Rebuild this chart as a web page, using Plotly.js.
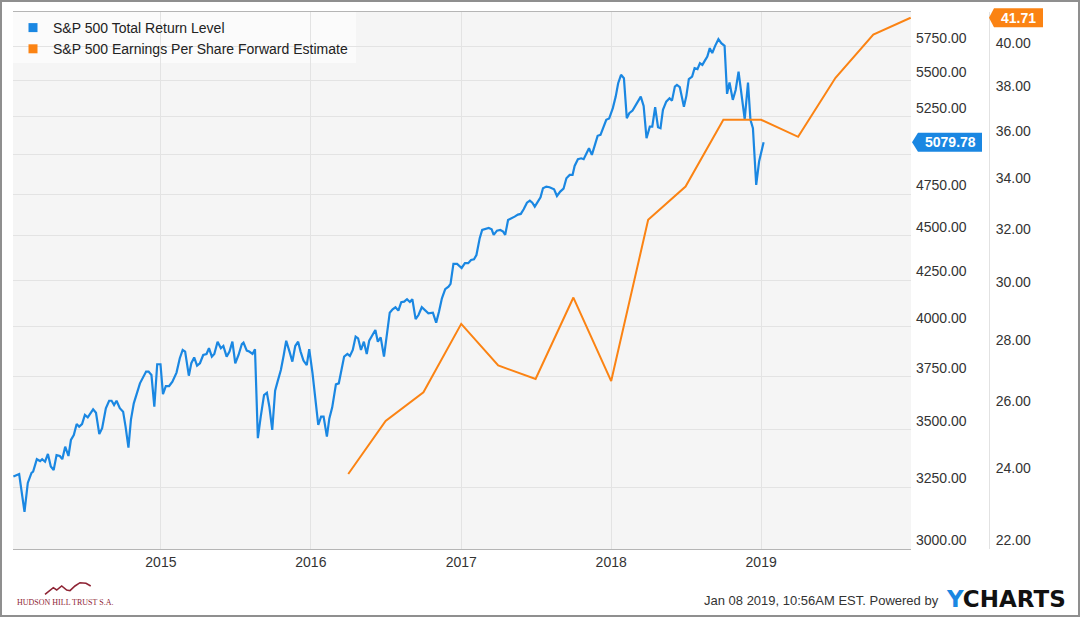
<!DOCTYPE html>
<html>
<head>
<meta charset="utf-8">
<script src="https://cdn.plot.ly/plotly-3.0.1.min.js"></script>
<style>
  html, body { margin: 0; padding: 0; background: #ffffff; }
  #chart { width: 1080px; height: 617px; }
</style>
</head>
<body>
<div id="chart"></div>
<script>
// ---------------- DATA ----------------
const seriesNames = ["S&P 500 Total Return Level", "S&P 500 Earnings Per Share Forward Estimate"];

const spxDates = [
  "2014-01-07","2014-01-21","2014-02-03","2014-02-11","2014-02-20","2014-02-24","2014-03-05","2014-03-13","2014-03-18","2014-03-25",
  "2014-04-01","2014-04-08","2014-04-15","2014-04-22","2014-04-30","2014-05-06","2014-05-13","2014-05-21","2014-05-27","2014-06-03",
  "2014-06-10","2014-06-16","2014-06-23","2014-06-30","2014-07-07","2014-07-20","2014-07-27","2014-08-04","2014-08-11","2014-08-20",
  "2014-08-28","2014-09-03","2014-09-09","2014-09-15","2014-09-23","2014-10-01","2014-10-07","2014-10-14","2014-10-20","2014-10-27",
  "2014-11-11","2014-11-26","2014-12-02","2014-12-09","2014-12-16","2014-12-23","2014-12-31",
  "2015-01-06","2015-01-13","2015-01-21","2015-01-29","2015-02-08","2015-02-16","2015-02-23","2015-03-01","2015-03-10","2015-03-16",
  "2015-03-23","2015-03-30","2015-04-06","2015-04-14","2015-04-22","2015-04-28","2015-05-05","2015-05-11","2015-05-19","2015-05-27",
  "2015-06-02","2015-06-10","2015-06-17","2015-06-24","2015-07-01","2015-07-09","2015-07-17","2015-07-21","2015-07-29","2015-08-04",
  "2015-08-12","2015-08-18","2015-08-25","2015-09-01","2015-09-09","2015-09-16","2015-09-22","2015-09-29","2015-10-06","2015-10-12",
  "2015-10-20","2015-10-27","2015-11-02","2015-11-10","2015-11-17","2015-11-24","2015-12-01","2015-12-07","2015-12-14","2015-12-22",
  "2015-12-28",
  "2016-01-05","2016-01-11","2016-01-19","2016-01-26","2016-02-01","2016-02-09","2016-02-15","2016-02-22","2016-03-02","2016-03-09",
  "2016-03-16","2016-03-22","2016-03-30","2016-04-05","2016-04-12","2016-04-19","2016-04-25","2016-05-02","2016-05-09","2016-05-16",
  "2016-05-22","2016-05-30","2016-06-06","2016-06-12","2016-06-19","2016-06-27","2016-07-04","2016-07-11","2016-07-18","2016-07-25",
  "2016-08-01","2016-08-08","2016-08-15","2016-08-22","2016-08-29","2016-09-04","2016-09-12","2016-09-19","2016-09-27","2016-10-05",
  "2016-10-13","2016-10-24","2016-11-01","2016-11-08","2016-11-15","2016-11-23","2016-12-01","2016-12-06","2016-12-13","2016-12-22",
  "2017-01-02","2017-01-10","2017-01-18","2017-01-25","2017-02-01","2017-02-07","2017-02-15","2017-02-21","2017-03-01","2017-03-09",
  "2017-03-16","2017-03-21","2017-03-29","2017-04-06","2017-04-13","2017-04-18","2017-04-25","2017-05-03","2017-05-11","2017-05-19",
  "2017-05-26","2017-06-02","2017-06-10","2017-06-17","2017-06-23","2017-06-29","2017-07-07","2017-07-13","2017-07-19","2017-07-27",
  "2017-08-04","2017-08-15","2017-08-22","2017-08-30","2017-09-07","2017-09-14","2017-09-22","2017-09-29","2017-10-04","2017-10-12",
  "2017-10-20","2017-10-26","2017-11-02","2017-11-08","2017-11-15","2017-11-22","2017-11-29","2017-12-06","2017-12-14","2017-12-20",
  "2017-12-27",
  "2018-01-05","2018-01-12","2018-01-18","2018-01-25","2018-02-01","2018-02-08","2018-02-14","2018-02-22","2018-03-02","2018-03-14",
  "2018-03-21","2018-03-28","2018-04-05","2018-04-11","2018-04-18","2018-04-25","2018-05-01","2018-05-07","2018-05-15","2018-05-23",
  "2018-05-29","2018-06-05","2018-06-10","2018-06-17","2018-06-27","2018-07-03","2018-07-09","2018-07-17","2018-07-23","2018-07-30",
  "2018-08-05","2018-08-11","2018-08-17","2018-08-23","2018-08-29","2018-09-04","2018-09-11","2018-09-19","2018-09-26","2018-10-04",
  "2018-10-10","2018-10-16","2018-10-24","2018-10-31","2018-11-07","2018-11-14","2018-11-22","2018-11-30","2018-12-06","2018-12-12",
  "2018-12-20","2018-12-27","2019-01-02","2019-01-07"
];
const spxValues = [
  3295,3306,3148,3268,3311,3316,3370,3362,3370,3359,
  3393,3338,3323,3388,3384,3370,3425,3384,3455,3477,
  3527,3515,3527,3569,3558,3595,3579,3482,3508,3600,
  3635,3635,3615,3635,3600,3584,3515,3421,3546,3623,
  3718,3775,3775,3758,3607,3811,3811,
  3666,3705,3705,3726,3770,3841,3882,3874,3755,3816,
  3845,3804,3816,3857,3862,3891,3849,3862,3924,3891,
  3902,3849,3874,3924,3816,3857,3912,3919,3879,3874,
  3862,3886,3463,3561,3662,3673,3607,3500,3683,3726,
  3783,3857,3929,3874,3824,3902,3924,3874,3829,3807,
  3886,
  3767,3654,3523,3561,3561,3470,3553,3604,3713,3718,
  3783,3849,3862,3852,3882,3950,3941,3882,3924,3862,
  3929,3958,3984,3924,3946,3849,3950,4074,4092,4103,
  4085,4130,4133,4146,4131,4146,4040,4062,4103,4089,
  4071,4074,4022,4080,4151,4200,4214,4229,4340,4340,
  4317,4344,4344,4362,4366,4390,4487,4535,4539,4547,
  4539,4506,4531,4535,4525,4506,4594,4602,4614,4626,
  4630,4658,4698,4711,4698,4674,4705,4731,4787,4797,
  4793,4780,4739,4766,4784,4849,4870,4870,4927,4970,
  4976,4970,5009,5041,4998,5063,5123,5129,5184,5230,
  5239,
  5310,5390,5484,5544,5520,5241,5275,5293,5332,5390,
  5325,5107,5184,5184,5316,5180,5174,5298,5355,5378,
  5362,5460,5472,5456,5320,5395,5513,5531,5592,5585,
  5628,5616,5647,5677,5739,5702,5756,5806,5776,5756,
  5409,5489,5367,5436,5567,5413,5234,5489,5230,5174,
  4807,4955,5030,5079.78
];

const epsDates = [
  "2016-04-01","2016-07-01","2016-10-01","2017-01-01","2017-04-01","2017-07-01","2017-10-01","2018-01-01",
  "2018-04-01","2018-07-01","2018-10-01","2019-01-01","2019-04-01","2019-07-01","2019-10-01","2019-12-31"
];
const epsValues = [24.08,25.67,26.57,28.85,27.44,27.00,29.78,26.93,32.70,34.04,36.89,36.89,36.14,38.80,40.87,41.71];

const priceTicks = [3000,3250,3500,3750,4000,4250,4500,4750,5000,5250,5500,5750];
// 5000.00 is hidden behind the last-value flag in the reference
const priceTickText = ["3000.00","3250.00","3500.00","3750.00","4000.00","4250.00","4500.00","4750.00","","5250.00","5500.00","5750.00"];
const epsTicks = [22,24,26,28,30,32,34,36,38,40];
const footerText = "Jan 08 2019, 10:56AM EST. Powered by";
const logoText = "HUDSON HILL TRUST S.A.";

// ---------------- LAYOUT HELPERS ----------------
const W = 1080, H = 617;
const M = {l: 13, r: 60, t: 12, b: 68};
const PW = W - M.l - M.r, PH = H - M.t - M.b;
const plotRightPx = 911, epsAxisPx = 989;
const px = x => (x - M.l) / PW;
const py = y => (H - M.b - y) / PH;

const priceRange = [Math.log10(3000), Math.log10(6014)];
const epsRange = [Math.log10(22), Math.log10(42.0)];
const pricePaperY = v => (Math.log10(v) - priceRange[0]) / (priceRange[1] - priceRange[0]);
const epsPaperY = v => (Math.log10(v) - epsRange[0]) / (epsRange[1] - epsRange[0]);

const BLUE = "#1a87e2", ORANGE = "#fb8313";
const FONT = '"Liberation Sans", Arial, Helvetica, sans-serif';

const lastSpx = spxValues[spxValues.length - 1];
const lastEps = epsValues[epsValues.length - 1];

const traces = [
  {x: spxDates, y: spxValues, type: "scatter", mode: "lines", yaxis: "y",
   line: {color: BLUE, width: 2.2}, showlegend: false, hoverinfo: "skip"},
  {x: epsDates, y: epsValues, type: "scatter", mode: "lines", yaxis: "y2",
   line: {color: ORANGE, width: 2}, showlegend: false, hoverinfo: "skip"},
  {x: [null], y: [null], type: "scatter", mode: "markers", name: seriesNames[0],
   marker: {symbol: "square", size: 9, color: BLUE}, hoverinfo: "skip"},
  {x: [null], y: [null], type: "scatter", mode: "markers", name: seriesNames[1],
   marker: {symbol: "square", size: 9, color: ORANGE}, hoverinfo: "skip"}
];

// mountain logo polyline (pixels)
const logoPts = [[45,594.3],[53.3,587.7],[56.7,590],[61.7,586],[66.7,590],[70,590.7],[75,586],[80,582.7],[86,583.3],[90.7,586]];
const logoPath = logoPts.map((p, i) => (i ? "L" : "M") + px(p[0]).toFixed(5) + "," + py(p[1]).toFixed(5)).join(" ");

const layout = {
  width: W, height: H,
  margin: M,
  paper_bgcolor: "#ffffff",
  plot_bgcolor: "#f5f5f5",
  font: {family: FONT, size: 14, color: "#333333"},
  showlegend: true,
  legend: {x: 0, y: 1, xanchor: "left", yanchor: "top",
           bgcolor: "rgba(0,0,0,0)", font: {size: 14, color: "#222222"},
           tracegroupgap: 0, itemwidth: 30},
  xaxis: {
    type: "date", domain: [0, px(plotRightPx)],
    range: ["2014-01-06", "2019-12-31T18:00:00"],
    tick0: "2015-01-01", dtick: "M12", tickformat: "%Y",
    showgrid: true, gridcolor: "#e3e3e3", gridwidth: 1,
    showline: true, linecolor: "#b5b5b5", linewidth: 1, mirror: true,
    ticks: "", zeroline: false,
    tickfont: {size: 14, color: "#333333"}
  },
  yaxis: {
    type: "log", side: "right", anchor: "x",
    range: priceRange,
    tickmode: "array", tickvals: priceTicks, ticktext: priceTickText,
    showgrid: true, gridcolor: "#e3e3e3", gridwidth: 1,
    showline: false, zeroline: false, ticks: "",
    ticklabelshift: -9, ticklabelstandoff: 4,
    tickfont: {size: 14, color: "#333333"}
  },
  yaxis2: {
    type: "log", side: "right", overlaying: "y", anchor: "free",
    position: px(epsAxisPx),
    range: epsRange,
    tickmode: "array", tickvals: epsTicks, tickformat: ".2f",
    showgrid: false, zeroline: false,
    showline: true, linecolor: "#e2e2e2", linewidth: 1, ticks: "",
    ticklabelshift: -9, ticklabelstandoff: 3,
    tickfont: {size: 14, color: "#333333"}
  },
  shapes: [
    // legend background wash
    {type: "rect", xref: "paper", yref: "paper", x0: px(13), x1: px(356), y0: py(63), y1: py(12),
     fillcolor: "rgba(255,255,255,0.55)", line: {width: 0}, layer: "below"},
    // outer frame
    {type: "rect", xref: "paper", yref: "paper", x0: px(1), x1: px(1079), y0: py(616), y1: py(1),
     line: {color: "#8f8f8f", width: 2}, fillcolor: "rgba(0,0,0,0)"},
    // last value flag: price
    {type: "path", xref: "paper", yref: "paper", xsizemode: "pixel", ysizemode: "pixel",
     xanchor: px(plotRightPx + 1), yanchor: pricePaperY(lastSpx),
     path: "M0,0 L6,9.5 L70,9.5 L70,-9.5 L6,-9.5 Z", fillcolor: BLUE, line: {width: 0}},
    // last value flag: eps
    {type: "path", xref: "paper", yref: "paper", xsizemode: "pixel", ysizemode: "pixel",
     xanchor: px(epsAxisPx), yanchor: epsPaperY(lastEps),
     path: "M0,0 L5,9.5 L54,9.5 L54,-9.5 L5,-9.5 Z", fillcolor: ORANGE, line: {width: 0}},
    // logo mountain
    {type: "path", xref: "paper", yref: "paper", path: logoPath,
     line: {color: "#8e2434", width: 1.6}}
  ],
  annotations: [
    {xref: "paper", yref: "paper", x: px(plotRightPx + 1 + 38), y: pricePaperY(lastSpx),
     xanchor: "center", yanchor: "middle", showarrow: false,
     text: "<b>" + lastSpx.toFixed(2) + "</b>", font: {size: 14, color: "#ffffff", family: FONT}},
    {xref: "paper", yref: "paper", x: px(epsAxisPx + 29.5), y: epsPaperY(lastEps),
     xanchor: "center", yanchor: "middle", showarrow: false,
     text: "<b>" + lastEps.toFixed(2) + "</b>", font: {size: 14, color: "#ffffff", family: FONT}},
    {xref: "paper", yref: "paper", x: px(941), y: py(600), xanchor: "right", yanchor: "middle",
     showarrow: false, text: footerText, font: {size: 13, color: "#333333", family: FONT}},
    {xref: "paper", yref: "paper", x: px(944), y: py(599), xanchor: "left", yanchor: "middle",
     showarrow: false,
     text: "<b><span style='color:" + BLUE + "'>Y</span>CHARTS</b>",
     font: {size: 23, color: "#111111", family: '"DejaVu Sans", "Liberation Sans", Arial, sans-serif'}},
    {xref: "paper", yref: "paper", x: px(15), y: py(602), xanchor: "left", yanchor: "middle",
     showarrow: false, text: logoText,
     font: {size: 8, color: "#8e2434", family: '"Liberation Serif", "DejaVu Serif", serif'}}
  ]
};

Plotly.newPlot("chart", traces, layout, {staticPlot: true, displayModeBar: false});
</script>
</body>
</html>
